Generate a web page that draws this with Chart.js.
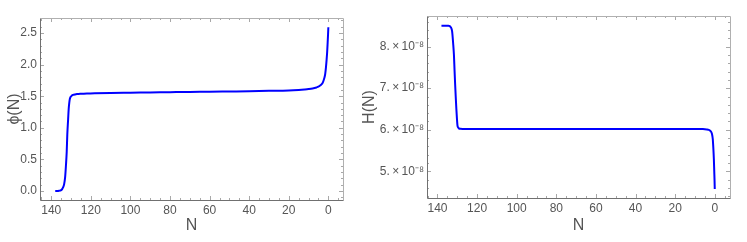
<!DOCTYPE html>
<html><head><meta charset="utf-8">
<script src="https://cdn.jsdelivr.net/npm/chart.js@4"></script>
<style>
body{margin:0;background:#fff;width:747px;height:242px;position:relative;overflow:hidden}
canvas{position:absolute;top:0}
#c1{left:0}
#c2{left:350px}
</style></head>
<body>
<canvas id="c1" width="374" height="242"></canvas>
<canvas id="c2" width="397" height="242"></canvas>
<script>
// ---- data ----
const nPhi = [138,137,136,135,134.5,134,133.5,133,132.6,132.2,131.9,131.5,131.2,130.9,130.6,130.2,129.6,129,128,127,125,122,118,110,100,90,80,70,60,50,40,30,20,15,12,10,8,6,5,4,3,2.5,2.0,1.6,1.2,0.9,0.6,0.35,0.15,0];
const phiValues = [0.00,0.00,0.005,0.015,0.03,0.06,0.11,0.22,0.40,0.62,0.90,1.13,1.30,1.40,1.46,1.49,1.51,1.52,1.528,1.533,1.538,1.543,1.547,1.552,1.556,1.560,1.564,1.568,1.571,1.575,1.579,1.585,1.592,1.600,1.607,1.613,1.622,1.638,1.650,1.672,1.705,1.74,1.79,1.85,1.96,2.07,2.20,2.35,2.48,2.59];

const nH = [138,136,134.5,133.8,133.4,133.0,132.6,132.1,131.7,131.4,131.1,130.8,130.5,130.2,129.9,129.6,129.2,128.5,127,120,100,80,60,40,20,10,6,4,3,2.3,1.8,1.4,1.0,0.7,0.45,0.25,0.1,0];
const hValues = [8.50e-8,8.50e-8,8.50e-8,8.49e-8,8.47e-8,8.44e-8,8.36e-8,8.08e-8,7.80e-8,7.44e-8,7.10e-8,6.80e-8,6.52e-8,6.28e-8,6.10e-8,6.06e-8,6.035e-8,6.025e-8,6.022e-8,6.02e-8,6.02e-8,6.02e-8,6.02e-8,6.02e-8,6.02e-8,6.02e-8,6.018e-8,6.01e-8,6.00e-8,5.98e-8,5.95e-8,5.90e-8,5.78e-8,5.55e-8,5.30e-8,5.00e-8,4.78e-8,4.58e-8];

const xTickValues = [140,120,100,80,60,40,20,0];
const phiTickValues = [0,0.5,1.0,1.5,2.0,2.5];
const hTickValues = [5e-8,6e-8,7e-8,8e-8];
const xTitle = 'N';
const phiTitle = 'ϕ(N)';
const hTitle = 'H(N)';

// ---- drawing ----
const labelColor = '#555';
const tickFont = {family:'Liberation Sans, Arial, sans-serif', size:12};
const titleFont = {family:'Liberation Sans, Arial, sans-serif', size:16};

const framePlugin = {
  id:'frame',
  afterDraw(chart, args, o){
    const {ctx, chartArea:a, scales:{x, y}} = chart;
    ctx.save();
    ctx.lineWidth = 1;
    ctx.strokeStyle = '#a8a8a8';
    const seg = (x1,y1,x2,y2)=>{ctx.beginPath();ctx.moveTo(x1,y1);ctx.lineTo(x2,y2);ctx.stroke();};
    for(let i=-2;i<=30;i++){
      const v=i*5, px=Math.round(x.getPixelForValue(v))+0.5;
      if(px<a.left+1||px>a.right-1) continue;
      const L = (i%4===0)?4:2;
      seg(px,a.bottom,px,a.bottom-L); seg(px,a.top,px,a.top+L);
    }
    for(let i=o.yMinorFrom;i<=o.yMinorTo;i++){
      const v=i*o.yMinorStep, py=Math.round(y.getPixelForValue(v))+0.5;
      if(py<a.top+1||py>a.bottom-1) continue;
      const L = (i%o.yMajorEvery===0)?4:2;
      seg(a.left,py,a.left+L,py); seg(a.right,py,a.right-L,py);
    }
    const l=Math.round(a.left)+0.5, r=Math.round(a.right)+0.5, t=Math.round(a.top)+0.5, b=Math.round(a.bottom)+0.5;
    ctx.strokeStyle='#b0b0b0';
    seg(l,t,r,t); seg(r,t,r,b);
    ctx.strokeStyle='#707070';
    seg(l,t,l,b); seg(l,b,r,b);
    ctx.restore();
  }
};

function makeChart(id, xs, ys, cfg){
  return new Chart(document.getElementById(id), {
    type:'line',
    data:{datasets:[{
      data: xs.map((n,i)=>({x:n, y:ys[i]})),
      borderColor:'#0000ff', borderWidth:2, pointRadius:0, fill:false,
      cubicInterpolationMode:'monotone'
    }]},
    options:{
      responsive:false, animation:false, events:[],
      layout:{padding:cfg.padding},
      plugins:{legend:{display:false}, tooltip:{enabled:false}, frame:cfg.frame},
      scales:{
        x:{type:'linear', reverse:true, min:cfg.xmin, max:cfg.xmax,
          afterBuildTicks:s=>{s.ticks = xTickValues.map(v=>({value:v}));},
          ticks:{callback:v=>String(v), font:tickFont, color:labelColor, padding:3, maxRotation:0, autoSkip:false},
          grid:{display:false, drawTicks:false}, border:{display:false},
          title:{display:true, text:xTitle, font:titleFont, color:labelColor, padding:{top:0,bottom:7}},
          afterFit:s=>{s.height = cfg.xHeight;}
        },
        y:{type:'linear', min:cfg.ymin, max:cfg.ymax,
          afterBuildTicks:s=>{s.ticks = cfg.yTicks.map(v=>({value:v}));},
          ticks:{callback:cfg.yLabel, font:tickFont, color:labelColor, padding:3, autoSkip:false},
          grid:{display:false, drawTicks:false}, border:{display:false},
          title:{display:true, text:cfg.yTitle, font:titleFont, color:labelColor, padding:{top:cfg.yTitlePad,bottom:0}},
          afterFit:s=>{s.width = cfg.yWidth;}
        }
      }
    },
    plugins:[framePlugin]
  });
}

makeChart('c1', nPhi, phiValues, {
  padding:{left:0,right:31,top:18,bottom:0},
  xmin:-7.4, xmax:145.7, xHeight:42,
  ymin:-0.142, ymax:2.737, yTicks:phiTickValues, yWidth:40,
  yLabel:v=>v.toFixed(1), yTitle:phiTitle, yTitlePad:5,
  frame:{yMinorStep:0.1, yMinorFrom:-1, yMinorTo:27, yMajorEvery:5}
});

makeChart('c2', nH, hValues, {
  padding:{left:0,right:17,top:16,bottom:0},
  xmin:-7.7, xmax:145.3, xHeight:44,
  ymin:4.362e-8, ymax:8.734e-8, yTicks:hTickValues, yWidth:77,
  yLabel:v=>Math.round(v*1e8)+'.\u2009×\u200910⁻⁸', yTitle:hTitle, yTitlePad:10,
  frame:{yMinorStep:0.2e-8, yMinorFrom:21, yMinorTo:44, yMajorEvery:5}
});
</script>
</body></html>
